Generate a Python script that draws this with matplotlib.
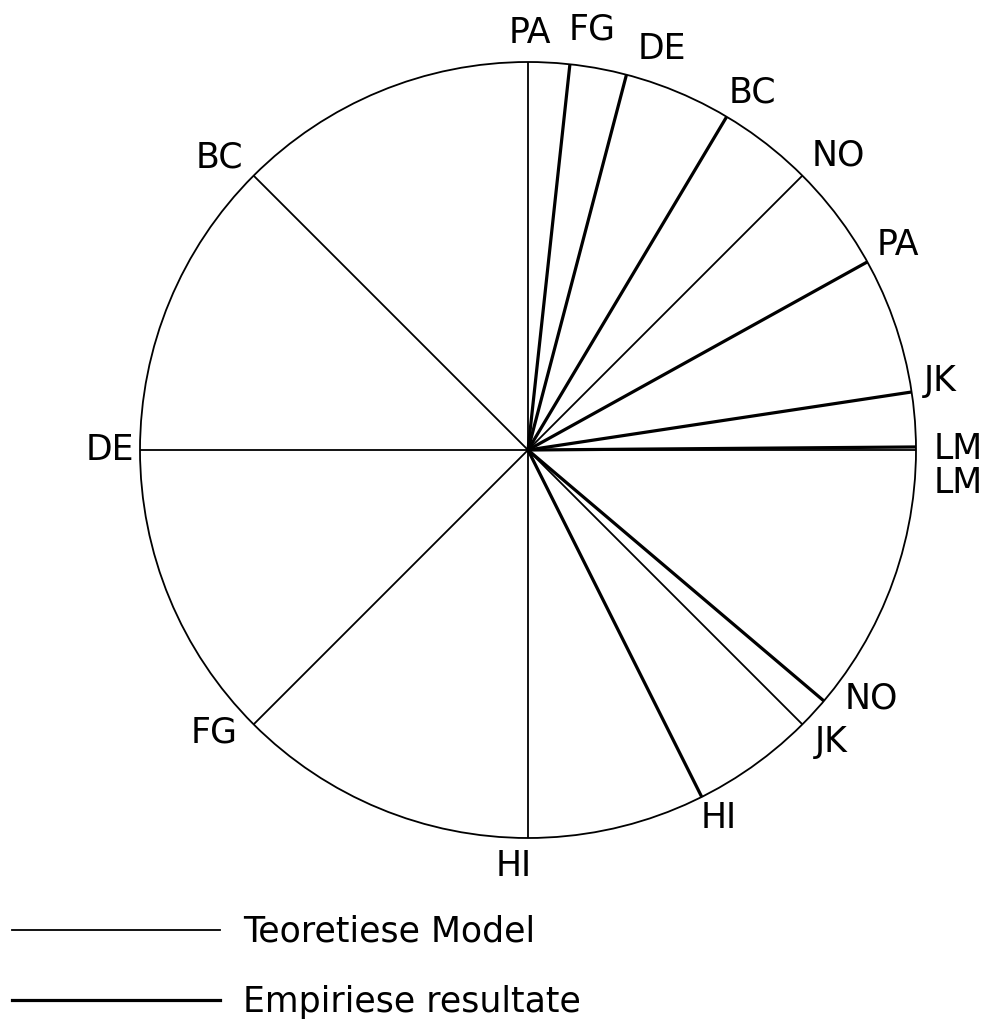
import matplotlib
matplotlib.use("Agg")
import matplotlib.pyplot as plt
import numpy as np
from matplotlib.patches import Circle

plt.rcParams["font.family"] = "DejaVu Sans"

# ── Data ──────────────────────────────────────────────────────────────────────
# theoretical model: eight equal sectors (angle in degrees, 0 = east, ccw)
THEORY_LABELS = ["PA", "BC", "DE", "FG", "HI", "JK", "LM", "NO"]
THEORY_ANGLES = [90, 135, 180, 225, 270, 315, 0, 45]

EMP_LABELS = ["FG", "DE", "BC", "PA", "JK", "LM", "NO", "HI"]
EMP_ANGLES = [83.8, 75.3, 59.2, 29.0, 8.6, 0.45, -40.3, -63.4]

LEGEND_LABELS = ["Teoretiese Model", "Empiriese resultate"]

# ── Layout (center at 528,450 px, radius 388 px) ─────────────────────────────
W, H = 989, 1032
CX, CY, R = 528, 450, 388
LAB_R = 1.09
FS = 25

# label nudges in pixels (right, down)
THEORY_NUDGE = {"PA": (2, 6), "BC": (-10, 7), "DE": (5, 0), "FG": (-15, -17),
                "HI": (-14, -7), "JK": (4, -7), "LM": (7, 33), "NO": (11, 5)}
EMP_NUDGE = {"FG": (18, 0), "DE": (27, 8), "BC": (8, 6), "JK": (-6, -6),
             "LM": (7, 2), "NO": (21, -25), "HI": (1, -10)}

fig = plt.figure(figsize=(W / 100, H / 100), dpi=100)
ax = fig.add_axes([0, 0, 1, 1])
ax.set_xlim(-CX / R, (W - CX) / R)
ax.set_ylim(-(H - CY) / R, CY / R)
ax.axis("off")

ax.add_patch(Circle((0, 0), 1, fill=False, lw=1.3, color="black"))


def spokes(labels, angles, lw, nudge):
    for lab, a in zip(labels, angles):
        t = np.deg2rad(a)
        ax.plot([0, np.cos(t)], [0, np.sin(t)], color="black", lw=lw,
                solid_capstyle="butt")
        dx, dy = nudge.get(lab, (0, 0))
        ax.text(LAB_R * np.cos(t) + dx / R, LAB_R * np.sin(t) - dy / R, lab,
                ha="center", va="center", fontsize=FS)


spokes(THEORY_LABELS, THEORY_ANGLES, 1.3, THEORY_NUDGE)
spokes(EMP_LABELS, EMP_ANGLES, 2.3, EMP_NUDGE)

# ── Legend ────────────────────────────────────────────────────────────────────
h1, = ax.plot([], [], color="black", lw=1.3)
h2, = ax.plot([], [], color="black", lw=2.3)
ax.legend([h1, h2], LEGEND_LABELS, loc="upper left",
          bbox_to_anchor=(12 / W, 1 - 915 / H), frameon=False,
          fontsize=FS, handlelength=6.0, handletextpad=0.65,
          labelspacing=1.05, borderpad=0, borderaxespad=0)

fig.savefig("out.png", dpi=100)
